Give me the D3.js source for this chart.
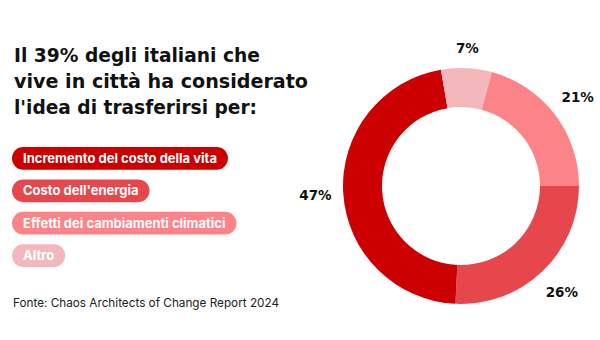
<!DOCTYPE html>
<html>
<head>
<meta charset="utf-8">
<script src="https://cdn.jsdelivr.net/npm/d3@7"></script>
<style>
  body { margin: 0; background: #fff; }
  svg { display: block; font-family: Inter, "Noto Sans", sans-serif; }
  .heavy { font-family: "DejaVu Sans", sans-serif; font-weight: bold; }
</style>
</head>
<body>
<svg id="chart" width="600" height="340"></svg>
<script>
// Data
var categories = ["Incremento del costo della vita", "Costo dell'energia", "Effetti dei cambiamenti climatici", "Altro"];
var values = [47, 26, 21, 7];
var colors = ["#cc0000", "#e6474c", "#fc8387", "#f4b8bc"];
// order of the slices clockwise, starting at 3 o'clock
var sliceOrder = [1, 0, 3, 2];

var titleLines = ["Il 39% degli italiani che", "vive in città ha considerato", "l'idea di trasferirsi per:"];
var titleWidths = [246, 294, 243];
var source = "Fonte: Chaos Architects of Change Report 2024";

var svg = d3.select("#chart"),
    width = +svg.attr("width"),
    height = +svg.attr("height");

// Title
svg.append("g").selectAll("text")
    .data(titleLines)
    .enter().append("text")
    .attr("class", "heavy")
    .attr("x", 14)
    .attr("y", function(d, i) { return 62 + i * 26; })
    .attr("font-size", 19.5)
    .attr("fill", "#111")
    .attr("textLength", function(d, i) { return titleWidths[i]; })
    .attr("lengthAdjust", "spacingAndGlyphs")
    .text(function(d) { return d; });

// Legend pills
var legendY = d3.scaleBand()
    .domain(categories)
    .range([147, 267])
    .paddingInner(0.3);

var pill = svg.append("g").selectAll(".pill")
    .data(categories)
    .enter().append("g")
    .attr("class", "pill")
    .attr("transform", function(d) { return "translate(12," + legendY(d) + ")"; });

var pillRect = pill.append("rect")
    .attr("height", legendY.bandwidth())
    .attr("rx", legendY.bandwidth() / 2)
    .attr("fill", function(d, i) { return colors[i]; });

var pillText = pill.append("text")
    .attr("x", 11)
    .attr("y", legendY.bandwidth() / 2)
    .attr("dy", "0.36em")
    .attr("font-size", 13)
    .attr("font-weight", 700)
    .attr("fill", "#fff")
    .text(function(d) { return d; });

pillText.each(function(d, i) {
  var w = this.getComputedTextLength();
  d3.select(pillRect.nodes()[i]).attr("width", w + 22);
});

// Source
svg.append("text")
    .attr("x", 13)
    .attr("y", 307)
    .attr("font-size", 12)
    .attr("fill", "#222")
    .attr("textLength", 266)
    .attr("lengthAdjust", "spacingAndGlyphs")
    .text(source);

// Donut
var cx = 461, cy = 186, outerR = 118, innerR = 79, labelGap = 11;

var slices = sliceOrder.map(function(k) {
  return {name: categories[k], value: values[k], color: colors[k]};
});

var pie = d3.pie()
    .sort(null)
    .value(function(d) { return d.value; })
    .startAngle(Math.PI / 2)
    .endAngle(Math.PI / 2 + 2 * Math.PI);

var arc = d3.arc().innerRadius(innerR).outerRadius(outerR);

var donut = svg.append("g").attr("transform", "translate(" + cx + "," + cy + ")");

donut.selectAll("path")
    .data(pie(slices))
    .enter().append("path")
    .attr("d", arc)
    .attr("fill", function(d) { return d.data.color; });

var labels = donut.selectAll(".label")
    .data(pie(slices))
    .enter().append("text")
    .attr("class", "label heavy")
    .attr("text-anchor", "middle")
    .attr("dy", "0.36em")
    .attr("font-size", 13.5)
    .attr("fill", "#111")
    .text(function(d) { return d.data.value + "%"; });

// push each label out so its box sits just clear of the ring
labels.attr("transform", function(d) {
  var box = this.getBBox(),
      a = (d.startAngle + d.endAngle) / 2,
      s = Math.sin(a), c = -Math.cos(a),
      r = outerR + labelGap + Math.abs(s) * box.width / 2 + Math.abs(c) * box.height / 2;
  return "translate(" + (s * r) + "," + (c * r) + ")";
});
</script>
</body>
</html>
